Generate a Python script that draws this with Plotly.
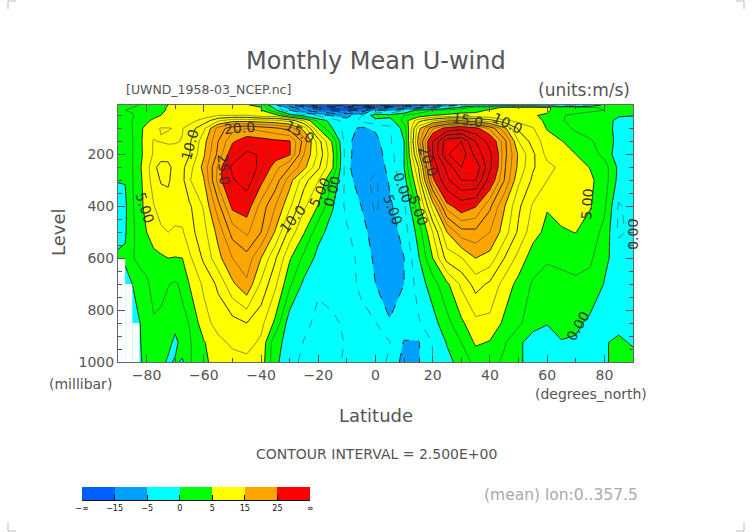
import plotly.graph_objects as go

W = 752
H = 532

lats = [-90, -87.5, -85, -82.5, -80, -77.5, -75, -72.5, -70, -67.5,
        -65, -60, -55, -50, -45, -40, -35, -30, -25, -20, -15, -10, -5, 0,
        5, 10, 15, 20, 25, 30, 35, 40, 45, 50, 55, 60, 65, 70, 75, 80, 85, 90]
levels = [10, 20, 30, 50, 70, 100, 150, 200, 250, 300, 400, 500, 600, 700, 850, 925, 1000]

# zonal mean u-wind, one list per pressure level
u_10 = [2.5, 2.5, 2.5, 2.5, 2.6, 3, 4.2, 5, 5.5, 5.5,
        5.5, 5.5, 5.5, 5.5, 5.2, 4, -4, -14, -22, -30, -35, -38, -35, -28,
        -25, -22, -18, -14, -8, -4, -2, -3, -2, -3, -3, -4, -4, -4, -3, 1, 2, 2]
u_20 = [2.5, 2.5, 2.5, 2.6, 2.8, 3.2, 4.5, 5.2, 5.8, 6,
        6, 6, 6, 5.8, 5.5, 5.2, -1, -8, -14, -20, -24, -26, -24, -16,
        -14, -13, -10, -6, -2, 1, 3.5, 4, 5.5, 6, 5.9, 5.5, 3.5, 3, 2.6, 2.4, 2.2, 2]
u_30 = [2.5, 2.5, 2.6, 2.8, 3, 3.5, 4.5, 5.3, 6, 6,
        5.9, 6, 6.3, 6, 5.7, 5, 0.6, -5, -10, -14, -17, -18, -14, -5,
        -6, -3.5, 1, 2.5, 3, 4, 4.5, 5.2, 5.8, 6, 6, 5.3, 4, 3.5, 3, 2.5, 2, 2]
u_50 = [2.3, 2.3, 2.4, 2.9, 3.6, 4.3, 5, 5.4, 5.6, 5.8,
        6, 6.3, 7.5, 7.5, 7.6, 6, 6, 1.5, -1, -3, -5.5, -6, -2.8, 1.5,
        1, 2.5, 3.4, 5, 5.5, 5.8, 5.6, 5.4, 5.4, 5.3, 5.1, 4.8, 2.7, 2, 1.5, 1, 0.2, 0.1]
u_70 = [2.3, 2.3, 2.5, 3.2, 4.5, 5.5, 6, 6, 6, 6.2,
        6.5, 8.5, 12, 14, 14, 13.5, 13, 11.5, 7.5, 1.5, -1, -4, -1.8, -0.8,
        -1.2, 3.5, 9, 12, 14.5, 14.8, 13, 11, 8, 6.8, 5.6, 4.7, 2.7, 1.5, 1.1, 0.8, -0.5, -0.8]
u_100 = [2.2, 2.2, 2.5, 4.4, 5.7, 7, 7.6, 7.6, 7.4, 7.4,
         8.6, 12, 18.5, 21.5, 22.5, 21.5, 20.5, 19, 14, 5, 0, -4, -5.5, -4.5,
         -3, 1, 14, 22, 26.5, 28, 26, 22, 15.8, 9.5, 7.7, 4.8, 3.6, 2, 1.8, 1.3, -1, -1.2]
u_150 = [2, 2, 2.4, 4, 6.8, 7.6, 7.4, 7.1, 7.3, 7.6,
         9.6, 14, 20, 24.6, 26.5, 26.2, 25.6, 25.2, 19, 11.2, 4.5, -4.5, -6, -6,
         -2.8, 0, 16, 30, 43, 45, 35, 28, 21, 12.5, 9, 6.2, 5.1, 4, 2.7, 1.8, -1, -1.4]
u_200 = [1.5, 1.6, 2.4, 4.3, 6, 7.8, 9, 8.9, 8.4, 8.5,
         9.9, 14.7, 20.7, 27, 31, 29.5, 26.5, 25.3, 17.5, 12, 5.5, -4.2, -6.5, -6.5,
         -3.5, 0, 14, 30, 44.5, 48.5, 38, 31, 21, 14.6, 10.5, 6.7, 5.7, 5, 3.6, 1.8, -1.6, -1.5]
u_250 = [1, 1.2, 2.4, 4.6, 6.4, 9.5, 10.8, 10.8, 8.9, 9.4,
         11.5, 15.8, 23, 31, 34.5, 28, 23.5, 20, 15.8, 10.5, 5.3, -4.3, -7, -7,
         -4, 0, 10, 27, 36.5, 45, 44, 31, 20.5, 14.3, 10.3, 8.3, 6.9, 6.2, 4.9, 3.7, -0.6, -1.7]
u_300 = [0.1, 0.1, 2.3, 4.3, 6.3, 8.7, 10.2, 10.4, 8.8, 9.3,
         12.3, 14.8, 23.5, 29.5, 32.5, 25.8, 21.5, 16, 11, 7.6, 2.4, -3.7, -6.7, -8,
         -4.6, -1.2, 8, 24, 34, 40, 40, 27.5, 20, 13, 9.5, 7.5, 7, 7.3, 5.5, 3.7, -0.8, -1.7]
u_400 = [-1, -0.5, 2.2, 4, 6, 7.4, 8.7, 8.9, 8.7, 8.8,
         9.6, 12.8, 19, 25.7, 26.5, 21.5, 17.5, 13, 8, 4.8, 0.2, -3.2, -5, -8,
         -5.5, -3, 4, 13.5, 23.7, 27, 25.2, 20.5, 15.2, 10.5, 7.2, 5.2, 5.7, 6, 5.2, 3, -2.8, -1.5]
u_500 = [-1, -0.3, 2, 3.5, 5, 6.2, 7, 7.5, 7.1, 7.2,
         9, 11.7, 15.8, 21, 23, 20, 14.7, 9, 5.2, 0.8, -1, -2.2, -3.8, -6.5,
         -7, -3.6, 1, 7.5, 15, 19, 19.3, 17.5, 13.8, 9.5, 6, 4.3, 4.8, 5.05, 3.8, 1.8, -3, -1.8]
u_600 = [0.5, 0.4, 2.3, 3.2, 3.6, 4.3, 4.6, 5, 4.9, 5,
         7, 10.5, 14.2, 17.5, 19, 15, 10.3, 5.3, 1.8, -0.8, -1.4, -1.8, -3, -5.6,
         -7, -5, -0.3, 5, 11, 12.3, 15, 14, 10, 6.6, 3.7, 2.7, 2.9, 3.1, 3, 0.4, -0.8, -1]
u_700 = [-1.5, -1, 0, 1.2, 2, 3.5, 3.2, 2.6, 2.2, 3,
         5.1, 8, 10.5, 14.5, 17, 12, 8, 3, -0.6, -2.2, -2, -2.1, -2.7, -5,
         -6.5, -5, -1.4, 1.3, 4.5, 8, 11, 9.5, 6.5, 4.2, 2.2, 1.8, 2, 2.2, 1.6, -0.1, -0.9, -1.2]
u_850 = [-1, -1, -0.8, -0.1, 0.9, 2.2, 2, 1.6, 1, 1.9,
         2.6, 6.5, 8.5, 9, 10, 8.3, 4.4, -1.5, -2, -3, -2.7, -2.3, -2.2, -2.4,
         -4.8, -3.5, -2.8, -1, 1.7, 4.5, 6.8, 6.8, 4.5, 3, 1, 0.1, 0.6, 0.5, -0.5, -1, -0.8, -1]
u_925 = [-1, -1, -1.5, -0.3, 1.3, 1.5, 1.7, 1, -0.8, 1.2,
         2.2, 4.8, 6.8, 8, 8.5, 7, 0.7, -0.8, -2.6, -3.2, -3.2, -2.3, -2, -2.2,
         -2.4, -5.2, -5.2, -2.4, 0.2, 2.5, 5.4, 4.8, 2.8, 0.5, -1.2, -1, -0.1, -0.3, -1, -0.2, 0.5, -0.3]
u_1000 = [-1, -1, -1, -0.5, 1, 1.5, 1, -0.5, 0.3, -0.3,
          2.2, 4.5, 6, 6.5, 6.8, 6.5, 0.5, -1.5, -3.2, -3.5, -3, -2.2, -1.5, -1.2,
          -3, -6, -5.2, -2.5, -0.8, 1, 3.3, 3.5, 2, 0.5, -1.2, -1.5, -1, -0.8, -1, -0.5, 1.2, 1]

u_wind = [u_10, u_20, u_30, u_50, u_70, u_100, u_150, u_200, u_250, u_300,
          u_400, u_500, u_600, u_700, u_850, u_925, u_1000]

# no data below the ground at the south pole
gap_lats = [-88.75, -86.25, -83.75]
gap_tops = [600, 700, 850]

# band edges and colours of the fill
band_edges = [-15, -5, 0, 5, 15, 25]
band_colors = ['#0060ff', '#00a0ff', '#00ffff', '#00ff00', '#ffff00', '#ffa500', '#ff0000']
bar_labels = ['\u2212\u221e', '\u221215', '\u22125', '0', '5', '15', '25', '\u221e']

# contour labels: text, lat, level, angle
label_text = ['5.00', '10.0', '20.0', '15.0', '25.0', '10.0', '5.00', '0.00',
              '15.0', '10.0', '20.0', '0.00', '5.00', '5.00', '5.00', '0.00', '0.00']
label_lat = [-80.6, -64.8, -47.4, -26.4, -53, -29, -19.4, -15.2,
             32.3, 46, 18.4, 9.6, 6.1, 14.9, 73.9, 90, 70.7]
label_level = [407, 165, 100, 115, 260, 448, 345, 345,
               68, 80, 225, 330, 415, 415, 390, 510, 860]
label_angle = [72, -75, -5, 30, 85, -50, -65, -75,
               10, 25, 70, 70, 70, 70, -85, -90, -60]

FONT = 'DejaVu Sans'
INK = '#555555'


def px_x(x):
    return x / W


def px_y(y):
    return 1 - y / H


def stepped_scale(start, end, size):
    # plotly spreads the colorscale half a step past both ends when it fills
    low = start - size / 2
    high = end + size / 2
    scale = []
    lo = 0.0
    for color, edge in zip(band_colors, band_edges + [None]):
        hi = 1.0 if edge is None else (edge - low) / (high - low)
        scale.append([lo, color])
        scale.append([hi, color])
        lo = hi
    return scale


def line_trace(start, end, size, width, color, dash):
    return go.Contour(
        x=lats, y=levels, z=u_wind, autocontour=False, showscale=False, hoverinfo='skip',
        contours=dict(coloring='none', start=start, end=end, size=size),
        line=dict(color=color, width=width, dash=dash, smoothing=0))


fig = go.Figure()

fig.add_trace(go.Contour(
    x=lats, y=levels, z=u_wind, autocontour=False, showscale=False,
    contours=dict(coloring='fill', start=-40, end=60, size=2.5),
    colorscale=stepped_scale(-40, 60, 2.5),
    line=dict(width=0, smoothing=0)))

fig.add_trace(line_trace(0, 60, 5, 0.9, '#111111', 'solid'))
fig.add_trace(line_trace(2.5, 57.5, 5, 0.6, '#444444', 'solid'))
fig.add_trace(line_trace(-40, -5, 5, 0.9, '#111111', 'dash'))
fig.add_trace(line_trace(-37.5, -2.5, 5, 0.6, '#444444', 'dash'))

# heatmaps sit under contours, bars sit above them
fig.add_trace(go.Bar(
    x=gap_lats, base=gap_tops, y=[1000 - t for t in gap_tops], width=2.5,
    marker=dict(color='white', line=dict(width=0)), hoverinfo='skip'))

fig.add_trace(go.Heatmap(
    z=[list(range(len(band_colors)))], x0=1, dx=1, y=[0], xaxis='x2', yaxis='y2',
    showscale=False, zmin=0, zmax=len(band_colors) - 1,
    colorscale=[[i / (len(band_colors) - 1), c] for i, c in enumerate(band_colors)]))

axis_style = dict(
    showgrid=False, zeroline=False, showline=True, linecolor='#666666', linewidth=1,
    mirror='ticks', ticks='inside', tickcolor='#555555', tickwidth=1, ticklen=7,
    automargin=False, tickfont=dict(family=FONT, size=14, color=INK))

fig.update_layout(
    width=W, height=H, autosize=False, margin=dict(l=0, r=0, t=0, b=0),
    paper_bgcolor='white', plot_bgcolor='white', showlegend=False,
    font=dict(family=FONT, color=INK),
    xaxis=dict(domain=[px_x(118), px_x(633)], range=[-90, 90],
               tickvals=[-80, -60, -40, -20, 0, 20, 40, 60, 80],
               ticktext=['\u221280', '\u221260', '\u221240', '\u221220', '0', '20', '40', '60', '80'],
               minor=dict(dtick=10, ticks='inside', ticklen=4, tickcolor='#555555'),
               **axis_style),
    yaxis=dict(domain=[px_y(362), px_y(105)], range=[1000, 10],
               tickvals=[200, 400, 600, 800, 1000],
               minor=dict(dtick=50, ticks='inside', ticklen=4, tickcolor='#555555'),
               **axis_style),
    xaxis2=dict(domain=[px_x(82), px_x(310)], range=[0.5, 7.5], anchor='y2', automargin=False,
                tickvals=[0.5 + i for i in range(8)], ticktext=bar_labels,
                ticks='inside', ticklen=5, tickcolor='#111111', showgrid=False, zeroline=False,
                showline=True, linecolor='#111111', linewidth=1,
                tickfont=dict(family=FONT, size=8, color='#111111')),
    yaxis2=dict(domain=[px_y(500), px_y(487)], anchor='x2', range=[-0.5, 0.5], automargin=False,
                showticklabels=False, ticks='', showgrid=False, zeroline=False),
)

for text, lat, level, angle in zip(label_text, label_lat, label_level, label_angle):
    fig.add_annotation(x=lat, y=level, xref='x', yref='y', text=text, textangle=angle,
                       showarrow=False, font=dict(family=FONT, size=14, color='#333333'))


def page_text(text, x, y, size, anchor='center', angle=0, color=INK):
    fig.add_annotation(x=px_x(x), y=px_y(y), xref='paper', yref='paper', text=text,
                       textangle=angle, xanchor=anchor, yanchor='middle', showarrow=False,
                       font=dict(family=FONT, size=size, color=color))


page_text('Monthly Mean U-wind', 376, 61, 24)
page_text('[UWND_1958-03_NCEP.nc]', 124, 89, 12.5, 'left')
page_text('(units:m/s)', 632, 90, 17, 'right')
page_text('Level', 58, 232, 18, angle=-90)
page_text('Latitude', 376, 415, 18)
page_text('(millibar)', 47, 384, 14, 'left')
page_text('(degrees_north)', 649, 394, 14, 'right')
page_text('CONTOUR INTERVAL = 2.500E+00', 376, 454, 14)
page_text('(mean) lon:0..357.5', 640, 495, 15.5, 'right', color='#aaaaaa')

# crop marks in the page corners
for cx, cy, dx, dy in [(8, 1, 8, 8), (744, 1, -8, 8), (8, 531, 8, -8), (744, 531, -8, -8)]:
    for x1, y1 in [(cx + dx, cy), (cx, cy + dy)]:
        fig.add_shape(type='line', xref='paper', yref='paper',
                      x0=px_x(cx), y0=px_y(cy), x1=px_x(x1), y1=px_y(y1),
                      line=dict(color='#bbbbbb', width=1))

fig.write_html("out.html", config=dict(displayModeBar=False),
               post_script="document.body.style.margin='0';document.body.style.overflow='hidden';")
